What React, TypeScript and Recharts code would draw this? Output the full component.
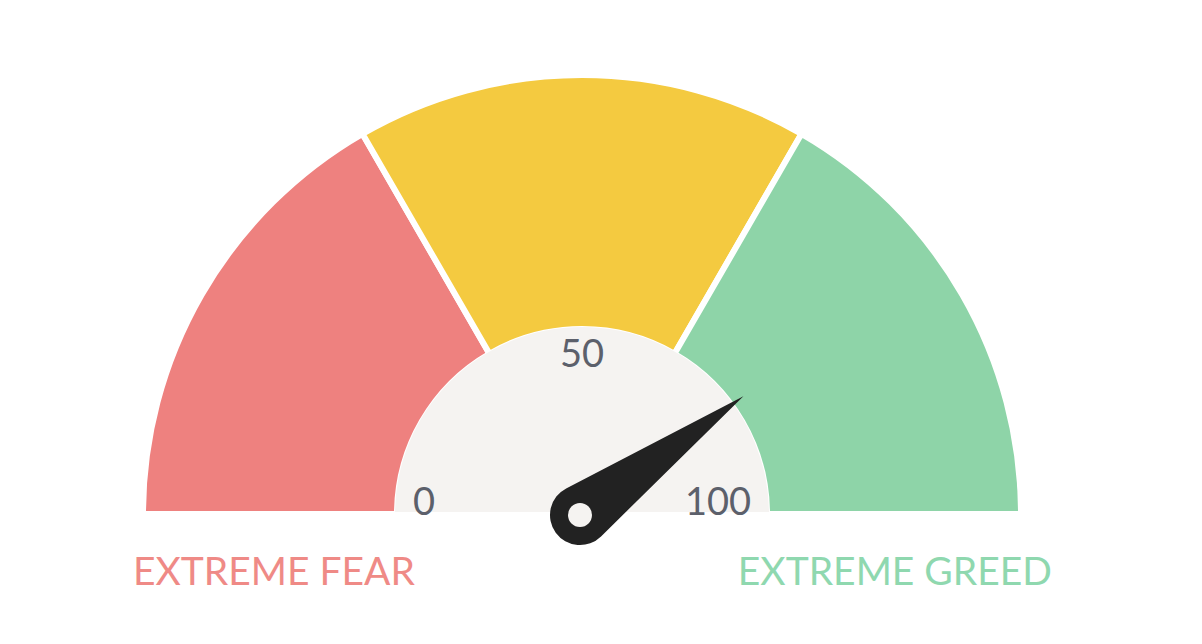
import { PieChart, Pie, Cell } from "recharts"

const zoneNames = ["Extreme Fear", "Neutral", "Extreme Greed"]
const zoneValues = [33.33, 33.34, 33.33]
const zoneColors = ["#ee817f", "#f4ca40", "#8ed4a8"]
const scaleTicks = ["0", "50", "100"]
const gaugeValue = 80
const gaugeMin = 0
const gaugeMax = 100

const MARGIN = 5
const CX = 582
const CY = 514
const START = 180
const END = 0

function Overlay() {
  const t = (gaugeValue - gaugeMin) / (gaugeMax - gaugeMin)
  const ang = ((START + (END - START) * t) * Math.PI) / 180
  const px = CX - 2
  const py = CY + 1
  const len = 202
  const tipX = px + len * Math.cos(ang)
  const tipY = py - len * Math.sin(ang)
  const r = 30
  const a = Math.acos(r / len)
  const baseAng = Math.atan2(tipY - py, tipX - px)
  const p1x = px + r * Math.cos(baseAng + a)
  const p1y = py + r * Math.sin(baseAng + a)
  const p2x = px + r * Math.cos(baseAng - a)
  const p2y = py + r * Math.sin(baseAng - a)
  const font = "Lato, 'Open Sans', sans-serif"
  return (
    <svg width={1202} height={644} style={{ position: "absolute", left: 0, top: 0, pointerEvents: "none" }}>
      <rect x={CX - 200} y={CY - 2} width={400} height={6} fill="#ffffff" />
      <text x={CX - 169} y={515} textAnchor="start" fontSize={38} fontFamily={font} fill="#5c606b">{scaleTicks[0]}</text>
      <text x={CX} y={367} textAnchor="middle" fontSize={38} fontFamily={font} fill="#5c606b">{scaleTicks[1]}</text>
      <text x={CX + 169} y={515} textAnchor="end" fontSize={38} fontFamily={font} fill="#5c606b">{scaleTicks[2]}</text>
      <path
        d={`M${tipX},${tipY} L${p1x},${p1y} A${r},${r} 0 1 1 ${p2x},${p2y} Z`}
        fill="#222222"
      />
      <circle cx={px} cy={py} r={12} fill="#f5f3f1" />
      <text x={133} y={585} textAnchor="start" fontSize={39} fontFamily={font} fill="#ef8a86">{zoneNames[0].toUpperCase()}</text>
      <text x={1052} y={585} textAnchor="end" fontSize={39} fontFamily={font} fill="#8fd8af">{zoneNames[2].toUpperCase()}</text>
    </svg>
  )
}

export default function App() {
  const zones = zoneNames.map((name, i) => ({ name, value: zoneValues[i] }))
  return (
    <div style={{ position: "absolute", left: 0, top: 0, width: 1202, height: 644, background: "#fff" }}>
      <PieChart width={1202} height={644}>
        <Pie
          data={zones}
          dataKey="value"
          cx={CX - MARGIN}
          cy={CY - MARGIN}
          startAngle={START}
          endAngle={END}
          innerRadius={185}
          outerRadius={439}
          stroke="#ffffff"
          strokeWidth={6}
          isAnimationActive={false}
        >
          {zones.map((z, i) => (
            <Cell key={z.name} fill={zoneColors[i]} />
          ))}
        </Pie>
        <Pie
          data={[{ name: "dial", value: 1 }]}
          dataKey="value"
          cx={CX - MARGIN}
          cy={CY - MARGIN}
          startAngle={START}
          endAngle={END}
          innerRadius={0}
          outerRadius={187}
          fill="#f5f3f1"
          stroke="none"
          isAnimationActive={false}
        />
      </PieChart>
      <Overlay />
    </div>
  )
}
